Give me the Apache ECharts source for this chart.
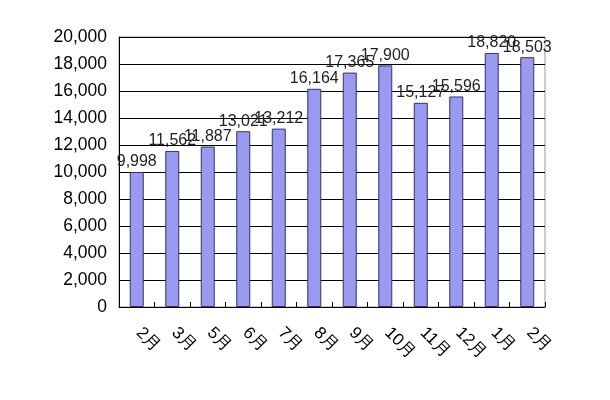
<!DOCTYPE html>
<html><head><meta charset="utf-8">
<script src="https://cdn.jsdelivr.net/npm/echarts@6/dist/echarts.min.js"></script>
<style>html,body{margin:0;padding:0;background:#fff}#c{width:610px;height:400px}</style>
</head><body><div id="c"></div>
<script>
var categories = ['2月','3月','5月','6月','7月','8月','9月','10月','11月','12月','1月','2月'];
var values = [9998, 11562, 11887, 13021, 13212, 16164, 17365, 17900, 15127, 15596, 18820, 18503];
var yTicks = {min: 0, max: 20000, interval: 2000};

var chart = echarts.init(document.getElementById('c'));
chart.setOption({
  animation: false,
  grid: {left: 119, right: 65, top: 37, bottom: 93, show: true, borderColor: '#999', borderWidth: 1},
  xAxis: {
    type: 'category', data: categories,
    axisLine: {lineStyle: {color: '#000', width: 1}},
    axisTick: {show: true, inside: true, length: 5, lineStyle: {color: '#000'}},
    axisLabel: {rotate: -45, margin: 21, fontFamily: 'Liberation Sans, Arial, sans-serif', fontSize: 17, color: '#000', padding: [0, 0, 0, 3]},
    splitLine: {show: false}
  },
  yAxis: {
    type: 'value', min: yTicks.min, max: yTicks.max, interval: yTicks.interval,
    axisLine: {show: true, lineStyle: {color: '#000', width: 1}},
    axisTick: {show: false},
    axisLabel: {margin: 12, fontFamily: 'Liberation Sans, Arial, sans-serif', fontSize: 17.5, color: '#000',
      formatter: function(v){ return v.toLocaleString('en-US'); }},
    splitLine: {show: true, lineStyle: {color: '#000', width: 1}}
  },
  series: [{
    type: 'bar', data: values, barWidth: 14,
    itemStyle: {color: '#9999f0', borderColor: '#333366', borderWidth: 1},
    label: {show: true, position: 'top', distance: 2, fontFamily: 'Liberation Sans, Arial, sans-serif', fontSize: 16, color: '#222',
      formatter: function(p){ return p.value.toLocaleString('en-US'); }}
  }]
});
</script></body></html>
